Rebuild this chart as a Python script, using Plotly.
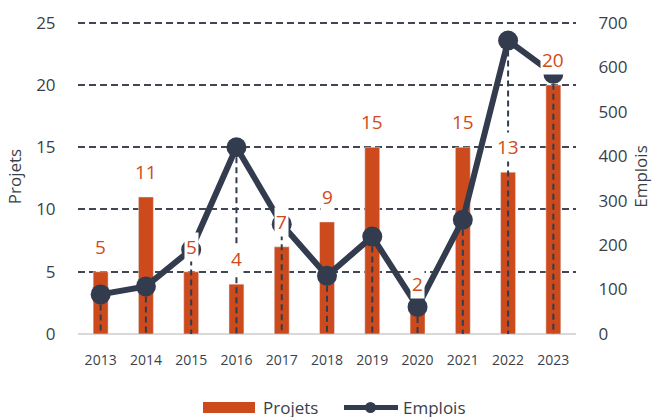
import plotly.graph_objects as go

# Data
years = ["2013", "2014", "2015", "2016", "2017", "2018", "2019", "2020", "2021", "2022", "2023"]
projets = [5, 11, 5, 4, 7, 9, 15, 2, 15, 13, 20]
emplois = [89, 107, 190, 420, 247, 131, 219, 61, 257, 660, 585]

BAR = "#CC4A1B"
LINE = "#333C4E"
LABEL = "#D04A1C"
TEXT = "#3A3F4B"
FONT = "Open Sans"

# a little headroom above the top gridline so it is drawn
Y_MAX = 25.3
Y2_MAX = 700 * Y_MAX / 25

fig = go.Figure()

fig.add_trace(go.Bar(
    x=years, y=projets, name="Projets", marker_color=BAR, width=0.33,
    yaxis="y", showlegend=False,
))

# dashed drop lines from each Emplois point down to the axis
drop_x, drop_y = [], []
for yr, v in zip(years, emplois):
    drop_x += [yr, yr, None]
    drop_y += [v, 0, None]
fig.add_trace(go.Scatter(
    x=drop_x, y=drop_y, mode="lines", yaxis="y2", showlegend=False,
    line=dict(color=LINE, width=2, dash="6px,4px"), hoverinfo="skip",
))

fig.add_trace(go.Scatter(
    x=years, y=emplois, name="Emplois", mode="lines+markers", yaxis="y2",
    line=dict(color=LINE, width=6), marker=dict(size=20, color=LINE),
    showlegend=False,
))

# value labels above the bars (category index positions)
for i, v in enumerate(projets):
    fig.add_annotation(
        x=i, y=v, xref="x", yref="y", text=str(v), showarrow=False,
        yshift=25, yanchor="middle", bgcolor="white", borderpad=1,
        font=dict(family=FONT, size=19, color=LABEL),
    )

# legend drawn beneath the plot
W, H, L, T = 498.0, 315.0, 78.0, 19.0
def px(xp):
    return (xp - L) / W
def py(yp):
    return (T + H - yp) / H

fig.add_shape(type="rect", xref="paper", yref="paper",
              x0=px(203), x1=px(255), y0=py(413), y1=py(402),
              fillcolor=BAR, line=dict(width=0))
fig.add_annotation(xref="paper", yref="paper", x=px(261), y=py(407),
                   text="Projets", showarrow=False, xanchor="left", yanchor="middle",
                   font=dict(family=FONT, size=17, color=TEXT))
fig.add_shape(type="line", xref="paper", yref="paper",
              x0=px(344), x1=px(398), y0=py(407.5), y1=py(407.5),
              line=dict(color=LINE, width=5))
fig.add_shape(type="circle", xref="paper", yref="paper",
              x0=px(365), x1=px(376), y0=py(413), y1=py(402),
              fillcolor=LINE, line=dict(width=0))
fig.add_annotation(xref="paper", yref="paper", x=px(401), y=py(407),
                   text="Emplois", showarrow=False, xanchor="left", yanchor="middle",
                   font=dict(family=FONT, size=17, color=TEXT))

fig.update_layout(
    width=658, height=417,
    margin=dict(l=78, r=82, t=19, b=83),
    paper_bgcolor="white", plot_bgcolor="white",
    font=dict(family=FONT, color=TEXT),
    bargap=0.67,
    xaxis=dict(
        type="category", range=[-0.5, 10.5], showgrid=False,
        showline=False, zeroline=False,
        ticks="outside", ticklen=13, tickcolor="rgba(0,0,0,0)",
        tickfont=dict(size=14, color=TEXT),
    ),
    yaxis=dict(
        range=[0, Y_MAX], tickvals=[0, 5, 10, 15, 20, 25],
        showgrid=True, gridcolor="#404652", gridwidth=2, griddash="7px,4px",
        zeroline=True, zerolinecolor="#D9D9D9", zerolinewidth=2,
        ticks="outside", ticklen=18, tickcolor="rgba(0,0,0,0)",
        tickfont=dict(size=17, color=TEXT),
        title=dict(text="Projets", font=dict(size=17, color=TEXT), standoff=10),
    ),
    yaxis2=dict(
        range=[0, Y2_MAX], tickvals=[0, 100, 200, 300, 400, 500, 600, 700],
        overlaying="y", side="right", showgrid=False, zeroline=False,
        ticks="outside", ticklen=18, tickcolor="rgba(0,0,0,0)",
        tickfont=dict(size=17, color=TEXT),
        title=dict(text="Emplois", font=dict(size=17, color=TEXT), standoff=8),
    ),
)

fig.write_html("out.html")
